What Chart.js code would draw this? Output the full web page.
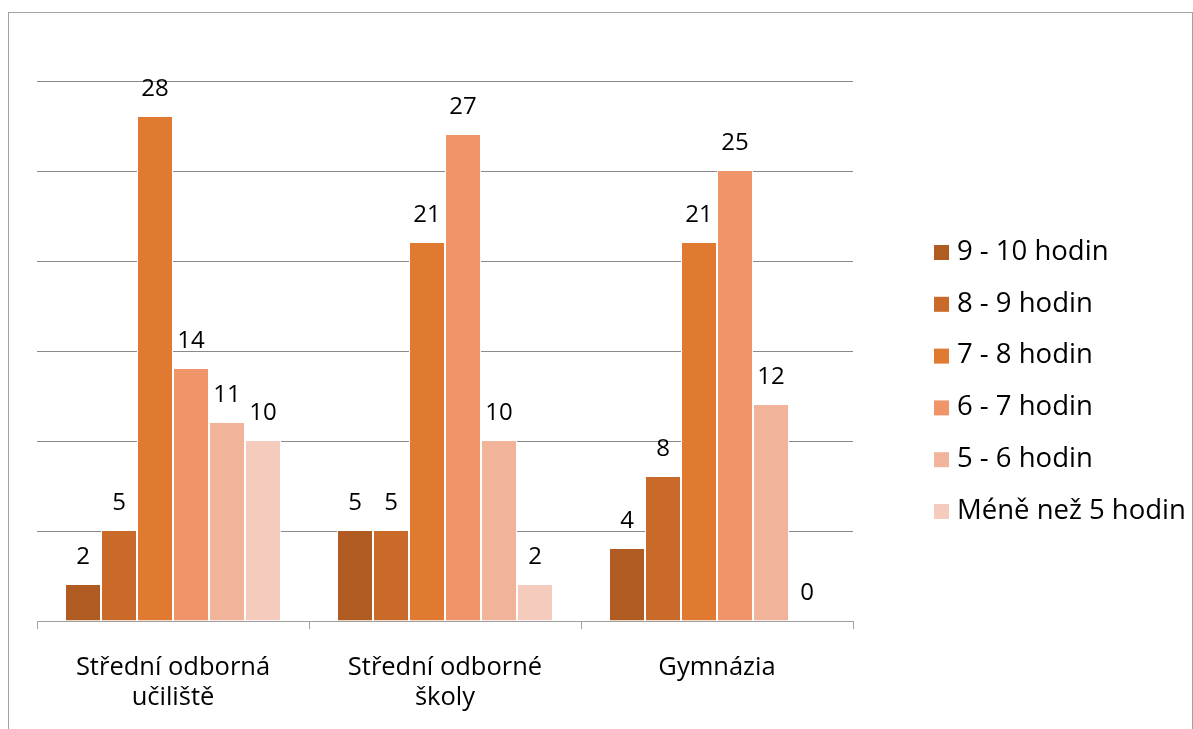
<!DOCTYPE html>
<html>
<head>
<meta charset="utf-8">
<script src="https://cdn.jsdelivr.net/npm/chart.js@4"></script>
<style>
  body { margin: 0; background: #fff; overflow: hidden; }
  #frame { position: absolute; left: 8px; top: 12px; width: 1183px; height: 740px; border: 1px solid #a3a3a3; }
  #mycanvas { position: absolute; left: 0; top: 0; }
</style>
</head>
<body>
<div id="frame"></div>
<canvas id="mycanvas" width="1193" height="729"></canvas>
<script>
// data
var categories = [["Střední odborná", "učiliště"], ["Střední odborné", "školy"], ["Gymnázia"]];
var seriesNames = ["9 - 10 hodin", "8 - 9 hodin", "7 - 8 hodin", "6 - 7 hodin", "5 - 6 hodin", "Méně než 5 hodin"];
var h9_10 = [2, 5, 4];
var h8_9 = [5, 5, 8];
var h7_8 = [28, 21, 21];
var h6_7 = [14, 27, 25];
var h5_6 = [11, 10, 12];
var hLess5 = [10, 2, 0];
var colors = ["#AF5B22", "#C96A2A", "#E17A31", "#F0956A", "#F2B39B", "#F5CBBE"];

var fontFamily = "'Open Sans', 'Noto Sans', sans-serif";
var values = [h9_10, h8_9, h7_8, h6_7, h5_6, hLess5];

var datasets = [];
for (var i = 0; i < seriesNames.length; i++) {
  datasets.push({
    label: seriesNames[i],
    data: values[i],
    backgroundColor: colors[i],
    borderColor: "#ffffff",
    borderWidth: { left: 1, right: 1, top: 0, bottom: 0 },
    borderSkipped: false
  });
}

/* value labels over the bars */
var valueLabels = {
  id: "valueLabels",
  afterDatasetsDraw: function(chart) {
    var ctx = chart.ctx;
    ctx.save();
    ctx.font = "24px " + fontFamily;
    ctx.fillStyle = "#000";
    ctx.textAlign = "center";
    ctx.textBaseline = "bottom";
    chart.data.datasets.forEach(function(ds, di) {
      var meta = chart.getDatasetMeta(di);
      meta.data.forEach(function(bar, j) {
        ctx.fillText(String(ds.data[j]), bar.x, bar.y - 16);
      });
    });
    ctx.restore();
  }
};

/* legend drawn on the right side */
var sideLegend = {
  id: "sideLegend",
  afterDraw: function(chart) {
    var ctx = chart.ctx;
    ctx.save();
    ctx.font = "27.5px " + fontFamily;
    ctx.textBaseline = "middle";
    ctx.textAlign = "left";
    chart.data.datasets.forEach(function(ds, i) {
      var y = 252 + i * 51.8;
      ctx.fillStyle = ds.backgroundColor;
      ctx.fillRect(934, y - 7, 15, 15);
      ctx.fillStyle = "#000";
      ctx.fillText(ds.label, 957, y);
    });
    ctx.restore();
  }
};

var ctx = document.getElementById("mycanvas");

var chart = new Chart(ctx, {
  type: "bar",
  data: { labels: categories, datasets: datasets },
  plugins: [valueLabels, sideLegend],
  options: {
    responsive: false,
    animation: false,
    layout: { padding: { left: 37, top: 81, right: 340, bottom: 0 } },
    datasets: { bar: { barPercentage: 1, categoryPercentage: 0.794 } },
    scales: {
      x: {
        afterFit: function(scale) { scale.height = 108; },
        grid: { drawOnChartArea: false, drawTicks: true, tickLength: 8, color: "#a0a0a0", offset: true },
        border: { display: true, color: "#a0a0a0", width: 1 },
        ticks: { color: "#000", padding: 23, font: { family: fontFamily, size: 25.5, lineHeight: 1.2 } }
      },
      y: {
        min: 0,
        max: 30,
        afterFit: function(scale) { scale.width = 0; },
        ticks: { display: false, stepSize: 5 },
        grid: { color: "#8a8a8a", drawTicks: false },
        border: { display: false }
      }
    },
    plugins: {
      legend: { display: false },
      tooltip: { enabled: false }
    }
  }
});
</script>
</body>
</html>
